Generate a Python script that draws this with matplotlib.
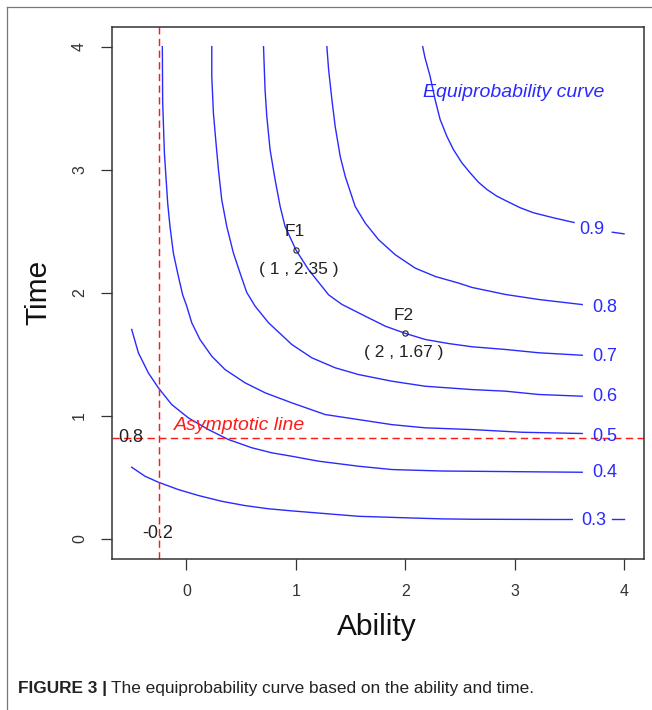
import matplotlib
matplotlib.use('Agg')
import matplotlib.pyplot as plt
from matplotlib.lines import Line2D

# ---------------- data ----------------
levels = [0.3, 0.4, 0.5, 0.6, 0.7, 0.8, 0.9]

x_03 = [-0.50, -0.379, -0.256, -0.073, 0.110, 0.323, 0.536, 0.751, 0.964, 1.269, 1.574, 2.032, 2.337, 2.611, 3.344, 3.527]
y_03 = [0.582, 0.509, 0.460, 0.400, 0.352, 0.305, 0.270, 0.244, 0.227, 0.205, 0.183, 0.170, 0.162, 0.159, 0.157, 0.157]

x_04 = [-0.50, -0.439, -0.348, -0.256, -0.135, 0.018, 0.201, 0.384, 0.598, 0.781, 0.964, 1.208, 1.574, 1.879, 2.337, 2.611, 3.222, 3.618]
y_04 = [1.702, 1.512, 1.349, 1.227, 1.092, 0.983, 0.888, 0.807, 0.740, 0.699, 0.671, 0.631, 0.590, 0.563, 0.551, 0.549, 0.544, 0.541]

x_05 = [-0.220, -0.217, -0.201, -0.187, -0.171, -0.150, -0.119, -0.073, -0.034, 0.003, 0.049, 0.124, 0.232, 0.353, 0.536, 0.719, 0.964, 1.269, 1.574, 1.879, 2.184, 2.611, 3.069, 3.618]
y_05 = [4.00, 3.555, 3.135, 2.945, 2.728, 2.539, 2.322, 2.132, 1.983, 1.891, 1.756, 1.620, 1.484, 1.376, 1.268, 1.187, 1.105, 1.010, 0.969, 0.928, 0.902, 0.888, 0.866, 0.856]

x_06 = [0.232, 0.232, 0.247, 0.268, 0.293, 0.323, 0.369, 0.430, 0.491, 0.552, 0.628, 0.751, 0.964, 1.147, 1.360, 1.574, 1.879, 2.184, 2.611, 2.916, 3.222, 3.618]
y_06 = [4.00, 3.758, 3.460, 3.244, 3.000, 2.756, 2.539, 2.322, 2.159, 2.002, 1.891, 1.756, 1.579, 1.471, 1.390, 1.335, 1.281, 1.240, 1.213, 1.200, 1.173, 1.159]

x_07 = [0.705, 0.719, 0.735, 0.765, 0.811, 0.857, 0.902, 1.000, 1.117, 1.300, 1.422, 1.636, 1.819, 2.000, 2.184, 2.398, 2.611, 2.916, 3.222, 3.618]
y_07 = [4.00, 3.650, 3.433, 3.162, 2.918, 2.701, 2.539, 2.350, 2.187, 1.983, 1.905, 1.809, 1.728, 1.670, 1.620, 1.587, 1.561, 1.539, 1.512, 1.492]

x_08 = [1.284, 1.300, 1.330, 1.360, 1.406, 1.452, 1.543, 1.635, 1.757, 1.909, 2.092, 2.276, 2.490, 2.611, 2.916, 3.222, 3.618]
y_08 = [4.00, 3.813, 3.569, 3.352, 3.108, 2.945, 2.701, 2.566, 2.431, 2.309, 2.200, 2.132, 2.078, 2.043, 1.986, 1.945, 1.904]

x_09 = [2.160, 2.181, 2.227, 2.273, 2.319, 2.380, 2.440, 2.517, 2.593, 2.669, 2.746, 2.838, 2.929, 3.051, 3.173, 3.356, 3.543]
y_09 = [4.00, 3.910, 3.761, 3.571, 3.409, 3.273, 3.165, 3.057, 2.975, 2.899, 2.840, 2.785, 2.744, 2.691, 2.650, 2.609, 2.571]

curves_x = [x_03, x_04, x_05, x_06, x_07, x_08, x_09]
curves_y = [y_03, y_04, y_05, y_06, y_07, y_08, y_09]

# short pieces of the curves that continue after the label
tail_levels = [0.3, 0.9]
tail_x = [[3.893, 4.0], [3.893, 4.0]]
tail_y = [[0.157, 0.157], [2.492, 2.479]]

# contour label positions
label_x = [3.724, 3.824, 3.824, 3.824, 3.824, 3.824, 3.705]
label_y = [0.148, 0.536, 0.834, 1.159, 1.484, 1.878, 2.514]
label_text = ["0.3", "0.4", "0.5", "0.6", "0.7", "0.8", "0.9"]

# marked points
pt_names = ["F1", "F2"]
pt_x = [1, 2]
pt_y = [2.35, 1.67]
pt_labels = ["( 1 , 2.35 )", "( 2 , 1.67 )"]

# asymptotes
asym_x = -0.25
asym_y = 0.82

xticks = [0, 1, 2, 3, 4]
yticks = [0, 1, 2, 3, 4]

# ---------------- figure ----------------
W, H = 652, 710
fig = plt.figure(figsize=(W / 100, H / 100), dpi=100)
FONT = ['Liberation Sans', 'DejaVu Sans']
plt.rcParams['font.family'] = FONT

# page frame (top and left borders)
fig.add_artist(Line2D([7 / W, 7 / W], [0, 1 - 6.5 / H], color='#777777', lw=0.9))
fig.add_artist(Line2D([7 / W, 1], [1 - 6.5 / H, 1 - 6.5 / H], color='#777777', lw=0.9))

left, right, top, bottom = 112, 643.7, 27, 558.5
ax = fig.add_axes([left / W, 1 - bottom / H, (right - left) / W, (bottom - top) / H])
ax.set_xlim(-0.68, 4.18)
ax.set_ylim(-0.16, 4.16)

blue = '#2a2aff'
for cx, cy in zip(curves_x, curves_y):
    ax.plot(cx, cy, color=blue, lw=1.0, solid_joinstyle='round')
for tx, ty in zip(tail_x, tail_y):
    ax.plot(tx, ty, color=blue, lw=1.0)
for lx, ly, lt in zip(label_x, label_y, label_text):
    ax.text(lx, ly, lt, color=blue, fontsize=13, ha='center', va='center')

# asymptotic lines
ax.axvline(asym_x, color='#ff1a1a', lw=1.05, dashes=(5, 3))
ax.axhline(asym_y, color='#ff1a1a', lw=1.05, dashes=(5, 3))

# points
dark = '#222222'
ax.plot(pt_x, pt_y, 'o', mfc='none', mec=dark, ms=3.8, mew=0.8)
ax.text(0.99, 2.50, pt_names[0], color=dark, fontsize=12.5, ha='center', va='center')
ax.text(1.03, 2.19, pt_labels[0], color=dark, fontsize=12.5, ha='center', va='center')
ax.text(1.986, 1.818, pt_names[1], color=dark, fontsize=12.5, ha='center', va='center')
ax.text(1.986, 1.512, pt_labels[1], color=dark, fontsize=12.5, ha='center', va='center')

# annotations
ax.text(2.99, 3.626, "Equiprobability curve", color=blue, fontsize=14, style='italic',
        ha='center', va='center')
ax.text(0.49, 0.92, "Asymptotic line", color='#ff1a1a', fontsize=14, style='italic',
        ha='center', va='center')
ax.text(-0.51, 0.821, "0.8", color=dark, fontsize=13, ha='center', va='center')
ax.text(-0.265, 0.043, "-0.2", color=dark, fontsize=13, ha='center', va='center')

# axes style
for s in ax.spines.values():
    s.set_color('#333333')
    s.set_linewidth(1.1)
ax.set_xticks(xticks)
ax.set_yticks(yticks)
ax.set_xticklabels([str(t) for t in xticks])
ax.set_yticklabels([str(t) for t in yticks], rotation=90, va='center')
ax.tick_params(direction='out', length=8, width=0.9, color='#333333',
               labelcolor='#333333', labelsize=11.5)
ax.tick_params(axis='x', pad=10)
ax.tick_params(axis='y', pad=10)

fig.text(376.7 / W, 1 - 626.7 / H, "Ability", fontsize=21.5, ha='center', va='center', color='#111111')
fig.text(38.5 / W, 1 - 292 / H, "Time", fontsize=21.5, ha='center', va='center', rotation=90, color='#111111')

# caption
cap_y = 1 - 688 / H
t1 = fig.text(18 / W, cap_y, "FIGURE 3 |", fontsize=12.4, fontweight='bold', ha='left', va='center',
              color='#222222', family=['Liberation Sans Narrow', 'Liberation Sans'])
fig.canvas.draw()
bb = t1.get_window_extent(fig.canvas.get_renderer())
fig.text((bb.x1 + 4) / W, cap_y, "The equiprobability curve based on the ability and time.", fontsize=12.4,
         ha='left', va='center', color='#222222', family=['Liberation Sans Narrow', 'Liberation Sans'])

fig.savefig('out.png', dpi=100)
